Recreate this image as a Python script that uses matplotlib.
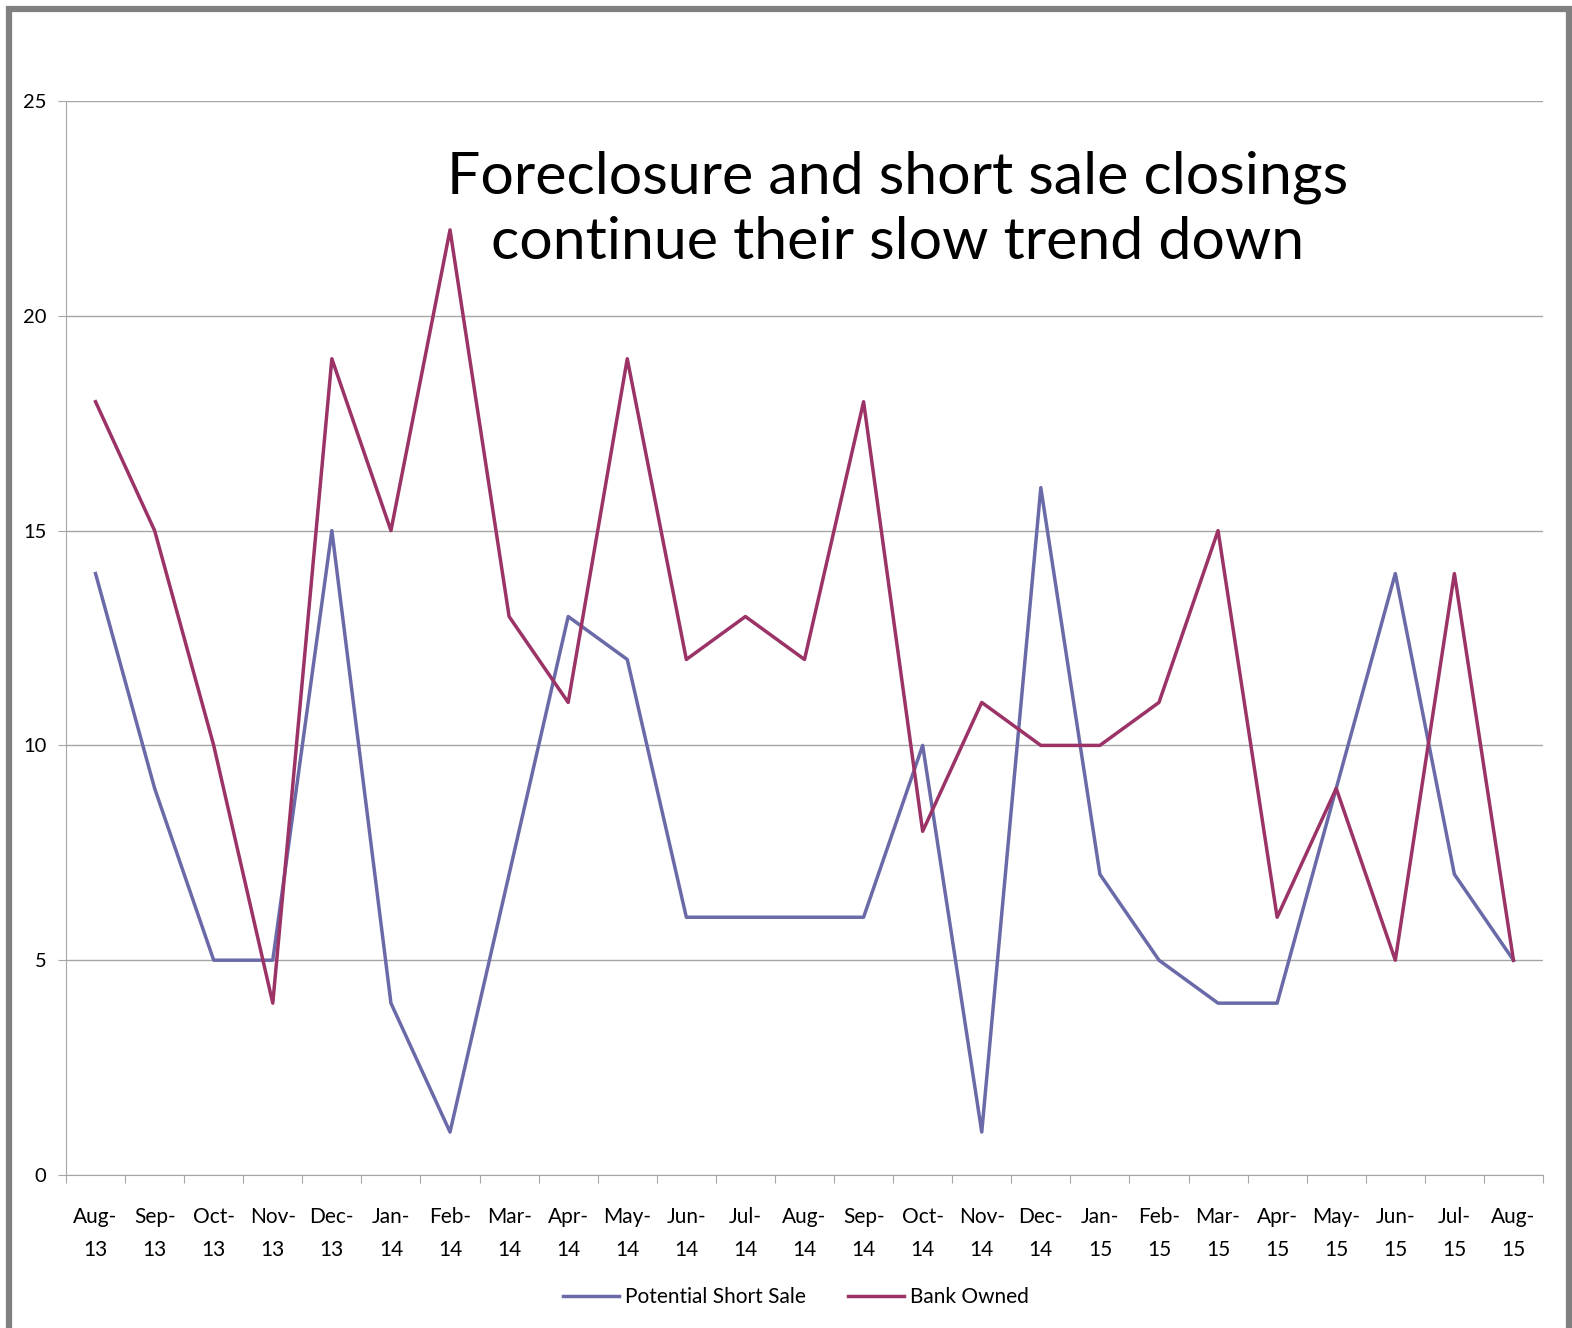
import matplotlib
matplotlib.use("Agg")
import matplotlib.pyplot as plt
from matplotlib.patches import Rectangle

months = ["Aug-\n13", "Sep-\n13", "Oct-\n13", "Nov-\n13", "Dec-\n13",
          "Jan-\n14", "Feb-\n14", "Mar-\n14", "Apr-\n14", "May-\n14",
          "Jun-\n14", "Jul-\n14", "Aug-\n14", "Sep-\n14", "Oct-\n14",
          "Nov-\n14", "Dec-\n14", "Jan-\n15", "Feb-\n15", "Mar-\n15",
          "Apr-\n15", "May-\n15", "Jun-\n15", "Jul-\n15", "Aug-\n15"]

short_sale = [14, 9, 5, 5, 15, 4, 1, 7, 13, 12, 6, 6, 6, 6, 10,
              1, 16, 7, 5, 4, 4, 9, 14, 7, 5]
bank_owned = [18, 15, 10, 4, 19, 15, 22, 13, 11, 19, 12, 13, 12, 18, 8,
              11, 10, 10, 11, 15, 6, 9, 5, 14, 5]

y_ticks = [0, 5, 10, 15, 20, 25]

plt.rcParams['font.family'] = ['Lato', 'DejaVu Sans']

fig = plt.figure(figsize=(15.72, 13.28), dpi=100)
ax = fig.add_axes([66 / 1572, 1 - 1175 / 1328, (1543 - 66) / 1572, (1175 - 101) / 1328])

x = list(range(len(months)))
ax.plot(x, short_sale, color="#6a6aa8", linewidth=2.5, label="Potential Short Sale")
ax.plot(x, bank_owned, color="#9b3366", linewidth=2.5, label="Bank Owned")

ax.set_xlim(-0.5, len(months) - 0.5)
ax.set_ylim(0, 25)
ax.set_yticks(y_ticks)
ax.set_yticklabels([str(v) for v in y_ticks], fontsize=14.5)
ax.yaxis.grid(True, color="#a6a6a6", linewidth=1)
ax.set_axisbelow(True)

# category labels sit between tick marks
ax.set_xticks([i + 0.5 for i in range(-1, len(months))])
ax.set_xticklabels([])
ax.set_xticks(x, minor=True)
ax.set_xticklabels(months, minor=True, fontsize=15, linespacing=1.8)
ax.tick_params(axis="x", which="minor", length=0, pad=23)
ax.tick_params(axis="x", which="major", length=6, color="#a6a6a6")
ax.tick_params(axis="y", length=6, color="#a6a6a6", pad=8)

for side in ["top", "right"]:
    ax.spines[side].set_visible(False)
for side in ["left", "bottom"]:
    ax.spines[side].set_color("#a6a6a6")

ax.text(0.563, 0.899, "Foreclosure and short sale closings\ncontinue their slow trend down",
        transform=ax.transAxes, ha="center", va="center", fontsize=42.5,
        linespacing=1.27)

fig.legend(loc="center", bbox_to_anchor=(796 / 1572, 1 - 1297 / 1328), ncol=2,
           frameon=False, fontsize=15, handlelength=2.7, columnspacing=2.0,
           handletextpad=0.3)

# gray frame around the picture
fig.patches.append(Rectangle((9 / 1572, -0.05), (1569 - 9) / 1572, 1.05 - 9 / 1328,
                             transform=fig.transFigure, fill=False,
                             edgecolor="#808080", linewidth=4.5))

fig.savefig("out.png", dpi=100)
